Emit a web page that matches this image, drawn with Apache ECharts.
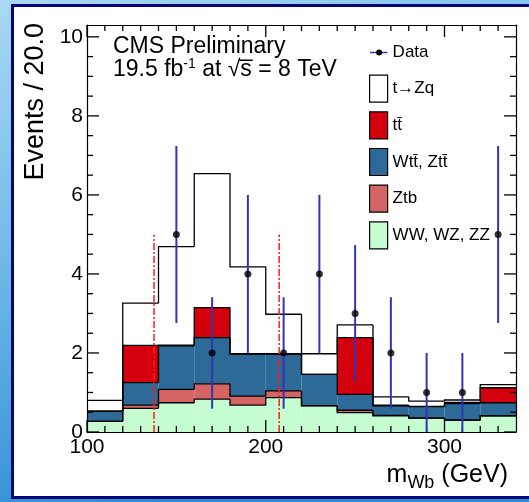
<!DOCTYPE html>
<html>
<head>
<meta charset="utf-8">
<script src="https://cdn.jsdelivr.net/npm/echarts@6/dist/echarts.min.js"></script>
<style>
  html, body { margin: 0; padding: 0; }
  #chart { width: 529px; height: 502px; }
</style>
</head>
<body>
<div id="chart"></div>
<script>
// m_Wb histogram: 20 GeV bins from 100 to 340 GeV
const binEdges = [100, 120, 140, 160, 180, 200, 220, 240, 260, 280, 300, 320, 340];

// Expected events per bin, stacked from bottom to top
const dibosonWW = [0.27, 0.60, 0.74, 0.83, 0.68, 0.87, 0.66, 0.49, 0.41, 0.35, 0.30, 0.41];
const ztbEvents = [0.00, 0.08, 0.34, 0.39, 0.23, 0.17, 0.01, 0.06, 0.01, 0.00, 0.00, 0.00];
const ttvEvents = [0.26, 0.57, 1.10, 1.17, 1.06, 0.93, 0.79, 0.40, 0.24, 0.29, 0.42, 0.33];
const ttbarEvents = [0.00, 0.94, 0.02, 0.76, 0.01, 0.01, 0.00, 1.44, 0.02, 0.01, 0.03, 0.38];
const tzqEvents = [0.27, 1.07, 2.49, 3.39, 2.20, 1.00, 0.52, 0.32, 0.21, 0.13, 0.06, 0.08];

// Observed data (bin centres) with error bar ends
const dataMass = [150, 170, 190, 210, 230, 250, 270, 290, 310, 330];
const dataEvents = [5, 2, 4, 2, 4, 3, 2, 1, 1, 5];
const dataErrLow = [2.76, 0.59, 2.00, 0.59, 2.00, 1.27, 0.59, 0.00, 0.00, 2.76];
const dataErrHigh = [7.24, 3.41, 6.00, 3.41, 6.00, 4.73, 3.41, 2.00, 2.00, 7.24];

// Mass window cut lines
const windowCuts = [137.5, 207.5];
const windowTop = 5;

// Axis ranges, tick labels and tick positions
const xRange = [100, 340];
const yRange = [0, 10.3];
const xTickLabels = [100, 200, 300];
const yTickLabels = [0, 2, 4, 6, 8, 10];
const xMinorTicks = [110, 120, 130, 140, 150, 160, 170, 180, 190, 210, 220, 230, 240, 250,
                     260, 270, 280, 290, 310, 320, 330];
const yMinorTicks = [0.5, 1, 1.5, 2.5, 3, 3.5, 4.5, 5, 5.5, 6.5, 7, 7.5, 8.5, 9, 9.5];

const FONT = '"Liberation Sans", Arial, Helvetica, sans-serif';
const MAJOR_LEN = 12;
const MINOR_LEN = 6;
const TICK_W = 1.3;

// Stack definition: bottom → top
const stackParts = [
  { name: 'WW, WZ, ZZ', values: dibosonWW, color: '#c5fdd1' },
  { name: 'Ztb', values: ztbEvents, color: '#d56565' },
  { name: 'Wt\u0074\u0304, Zt\u0074\u0304', values: ttvEvents, color: '#2d6a98' },
  { name: 't\u0074\u0304', values: ttbarEvents, color: '#d4000d' },
  { name: 't\u2192Zq', values: tzqEvents, color: '#ffffff' }
];

// Cumulative rows per component: [xLow, xHigh, base, top, previousTop]
let running = new Array(binEdges.length - 1).fill(0);
stackParts.forEach(part => {
  const rows = [];
  const tops = part.values.map((v, i) => running[i] + v);
  for (let i = 0; i < tops.length; i++) {
    rows.push([binEdges[i], binEdges[i + 1], running[i], tops[i], i === 0 ? 0 : tops[i - 1]]);
  }
  part.rows = rows;
  running = tops;
});

function histRenderer(fillColor) {
  return function (params, api) {
    const x0 = api.value(0), x1 = api.value(1);
    const pBase = api.coord([x0, api.value(2)]);
    const pTop = api.coord([x1, api.value(3)]);
    const pPrev = api.coord([x0, api.value(4)]);
    const pTopLeft = api.coord([x0, api.value(3)]);
    return {
      type: 'group',
      children: [
        {
          type: 'rect',
          shape: { x: pBase[0], y: pTop[1], width: pTop[0] - pBase[0], height: pBase[1] - pTop[1] },
          style: { fill: fillColor }
        },
        {
          type: 'polyline', z2: 5,
          shape: { points: [pPrev, pTopLeft, pTop] },
          style: { stroke: '#000', lineWidth: 1.3, fill: null }
        }
      ]
    };
  };
}

// Tallest cumulative first, lower components on top of it
const histSeries = stackParts.slice().reverse().map(part => ({
  type: 'custom', name: part.name, renderItem: histRenderer(part.color), data: part.rows,
  encode: { x: [0, 1], y: [2, 3] }, itemStyle: { color: part.color }, z: 2, clip: true, silent: true
}));

// Dash-dot cut lines built from small filled segments (pattern in pixels)
const DASH_PATTERN = [7, 2, 2, 2];
const cutSeries = {
  type: 'custom', name: 'window', data: windowCuts.map(c => [c, 0, windowTop]),
  encode: { x: 0, y: [1, 2] }, z: 3, silent: true,
  renderItem: function (params, api) {
    const lo = api.coord([api.value(0), api.value(1)]);
    const hi = api.coord([api.value(0), api.value(2)]);
    const children = [];
    let y = lo[1], k = 0;
    while (y > hi[1]) {
      const len = DASH_PATTERN[k % DASH_PATTERN.length];
      if (k % 2 === 0) {
        const top = Math.max(hi[1], y - len);
        children.push({ type: 'rect', shape: { x: lo[0] - 0.75, y: top, width: 1.5, height: y - top },
                        style: { fill: '#ff1a1a' } });
      }
      y -= len;
      k++;
    }
    return { type: 'group', children: children };
  }
};

// Inward tick marks on all four sides of the frame, drawn as thin filled bars
const xTickRows = [
  ...xTickLabels.map(v => [v, yRange[0], MAJOR_LEN]),
  ...xMinorTicks.map(v => [v, yRange[0], MINOR_LEN])
];
const yTickRows = [
  ...yTickLabels.map(v => [xRange[0], v, MAJOR_LEN]),
  ...yMinorTicks.map(v => [xRange[0], v, MINOR_LEN])
];
const xTickSeries = {
  type: 'custom', name: 'xticks', data: xTickRows, encode: { x: 0, y: 1 }, z: 4, silent: true,
  renderItem: function (params, api) {
    const v = api.value(0), len = api.value(2);
    const b = api.coord([v, yRange[0]]);
    const t = api.coord([v, yRange[1]]);
    return {
      type: 'group', children: [
        { type: 'rect', shape: { x: b[0] - TICK_W / 2, y: b[1] - len, width: TICK_W, height: len }, style: { fill: '#000' } },
        { type: 'rect', shape: { x: t[0] - TICK_W / 2, y: t[1], width: TICK_W, height: len }, style: { fill: '#000' } }
      ]
    };
  }
};
const yTickSeries = {
  type: 'custom', name: 'yticks', data: yTickRows, encode: { x: 0, y: 1 }, z: 4, silent: true,
  renderItem: function (params, api) {
    const v = api.value(1), len = api.value(2);
    const l = api.coord([xRange[0], v]);
    const r = api.coord([xRange[1], v]);
    return {
      type: 'group', children: [
        { type: 'rect', shape: { x: l[0], y: l[1] - TICK_W / 2, width: len, height: TICK_W }, style: { fill: '#000' } },
        { type: 'rect', shape: { x: r[0] - len, y: r[1] - TICK_W / 2, width: len, height: TICK_W }, style: { fill: '#000' } }
      ]
    };
  }
};

const errorBarSeries = {
  type: 'custom', name: 'Data', data: dataMass.map((m, i) => [m, dataErrLow[i], dataErrHigh[i]]),
  encode: { x: 0, y: [1, 2] }, z: 5, silent: true,
  renderItem: function (params, api) {
    const lo = api.coord([api.value(0), api.value(1)]);
    const hi = api.coord([api.value(0), api.value(2)]);
    return { type: 'line', shape: { x1: lo[0], y1: lo[1], x2: hi[0], y2: hi[1] },
             style: { stroke: '#3434b2', lineWidth: 2 } };
  }
};

const dataSeries = {
  type: 'scatter', name: 'Data', data: dataMass.map((m, i) => [m, dataEvents[i]]),
  symbol: 'circle', symbolSize: 7, itemStyle: { color: '#000' }, z: 6, silent: true
};

const dataIcon = 'image://data:image/svg+xml;charset=utf-8,' + encodeURIComponent(
  '<svg xmlns="http://www.w3.org/2000/svg" width="18" height="27">' +
  '<line x1="0" y1="13.5" x2="18" y2="13.5" stroke="#3434b2" stroke-width="1.6"/>' +
  '<circle cx="9.5" cy="13.5" r="3" fill="#000"/></svg>');

const boxStyle = c => ({ color: c, borderColor: '#000', borderWidth: 1.2 });
const tickFont = { fontFamily: FONT, fontSize: 21, color: '#000' };

function xAxisCfg(pos) {
  const bottom = pos === 'bottom';
  return {
    type: 'value', position: pos, min: xRange[0], max: xRange[1], interval: 100, z: 10,
    axisLine: { show: true, onZero: false, lineStyle: { color: '#000', width: 1.2 } },
    axisTick: { show: false },
    minorTick: { show: false },
    splitLine: { show: false },
    axisLabel: bottom ? Object.assign({
      margin: 5,
      formatter: v => (xTickLabels.indexOf(v) >= 0 ? String(v) : '')
    }, tickFont) : { show: false }
  };
}

function yAxisCfg(pos) {
  const left = pos === 'left';
  return {
    type: 'value', position: pos, min: yRange[0], max: yRange[1], interval: 2, z: 10,
    axisLine: { show: true, onZero: false, lineStyle: { color: '#000', width: 1.2 } },
    axisTick: { show: false },
    minorTick: { show: false },
    splitLine: { show: false },
    axisLabel: left ? Object.assign({
      margin: 4,
      formatter: v => (yTickLabels.indexOf(v) >= 0 ? String(v) : '')
    }, tickFont) : { show: false }
  };
}

const xBottom = xAxisCfg('bottom');
xBottom.name = '{m|m}{s|Wb}{m| (GeV)}';
xBottom.nameLocation = 'end';
xBottom.nameGap = -8;
xBottom.nameTextStyle = {
  align: 'right', verticalAlign: 'top', padding: [26, 0, 0, 0],
  rich: {
    m: { fontFamily: FONT, fontSize: 25, color: '#000', lineHeight: 34 },
    s: { fontFamily: FONT, fontSize: 18, color: '#000', lineHeight: 34, verticalAlign: 'bottom' }
  }
};

const yLeft = yAxisCfg('left');
yLeft.name = 'Events / 20.0';
yLeft.nameLocation = 'end';
yLeft.nameRotate = 90;
yLeft.nameGap = 2;
yLeft.nameTextStyle = {
  fontFamily: FONT, fontSize: 27, color: '#000',
  align: 'right', verticalAlign: 'bottom', padding: [0, 0, 38, 0]
};

const option = {
  animation: false,
  grid: { left: 87, right: 13, top: 25, bottom: 70, containLabel: false },
  xAxis: [xBottom, xAxisCfg('top')],
  yAxis: [yLeft, yAxisCfg('right')],
  legend: {
    orient: 'vertical', left: 369, top: 39, padding: 0,
    itemWidth: 18, itemHeight: 27, itemGap: 8.5,
    selectedMode: false,
    textStyle: { fontFamily: FONT, fontSize: 17, color: '#000' },
    data: [
      { name: 'Data', icon: dataIcon },
      { name: stackParts[4].name, icon: 'rect', itemStyle: boxStyle(stackParts[4].color) },
      { name: stackParts[3].name, icon: 'rect', itemStyle: boxStyle(stackParts[3].color) },
      { name: stackParts[2].name, icon: 'rect', itemStyle: boxStyle(stackParts[2].color) },
      { name: stackParts[1].name, icon: 'rect', itemStyle: boxStyle(stackParts[1].color) },
      { name: stackParts[0].name, icon: 'rect', itemStyle: boxStyle(stackParts[0].color) }
    ]
  },
  graphic: [
    {
      // slide backdrop and framed white panel
      type: 'rect', z: -20, silent: true,
      shape: { x: 0, y: 0, width: 529, height: 502 },
      style: {
        fill: {
          type: 'linear', x: 0, y: 0, x2: 0.3, y2: 1,
          colorStops: [
            { offset: 0, color: '#a9d8f4' },
            { offset: 0.45, color: '#74bbe8' },
            { offset: 1, color: '#2d8dd3' }
          ]
        }
      }
    },
    {
      type: 'rect', z: -19, silent: true,
      shape: { x: 12.5, y: 5.5, width: 600, height: 492 },
      style: { fill: '#fff', stroke: '#05057a', lineWidth: 3 }
    },
    {
      type: 'text', x: 113, y: 47, z: 20,
      style: { text: 'CMS Preliminary', font: '23px ' + FONT, fill: '#000', verticalAlign: 'middle' }
    },
    {
      type: 'text', x: 113, y: 70, z: 20,
      style: {
        text: '{a|19.5 fb}{p|-1}{a| at \u221As\u0305 = 8 TeV}',
        verticalAlign: 'middle',
        rich: {
          a: { font: '23px ' + FONT, fill: '#000', lineHeight: 26 },
          p: { font: '14px ' + FONT, fill: '#000', lineHeight: 26, verticalAlign: 'top' }
        }
      }
    }
  ],
  series: [...histSeries, cutSeries, xTickSeries, yTickSeries, errorBarSeries, dataSeries]
};

const chart = echarts.init(document.getElementById('chart'), null, { renderer: 'canvas' });
chart.setOption(option);
</script>
</body>
</html>
